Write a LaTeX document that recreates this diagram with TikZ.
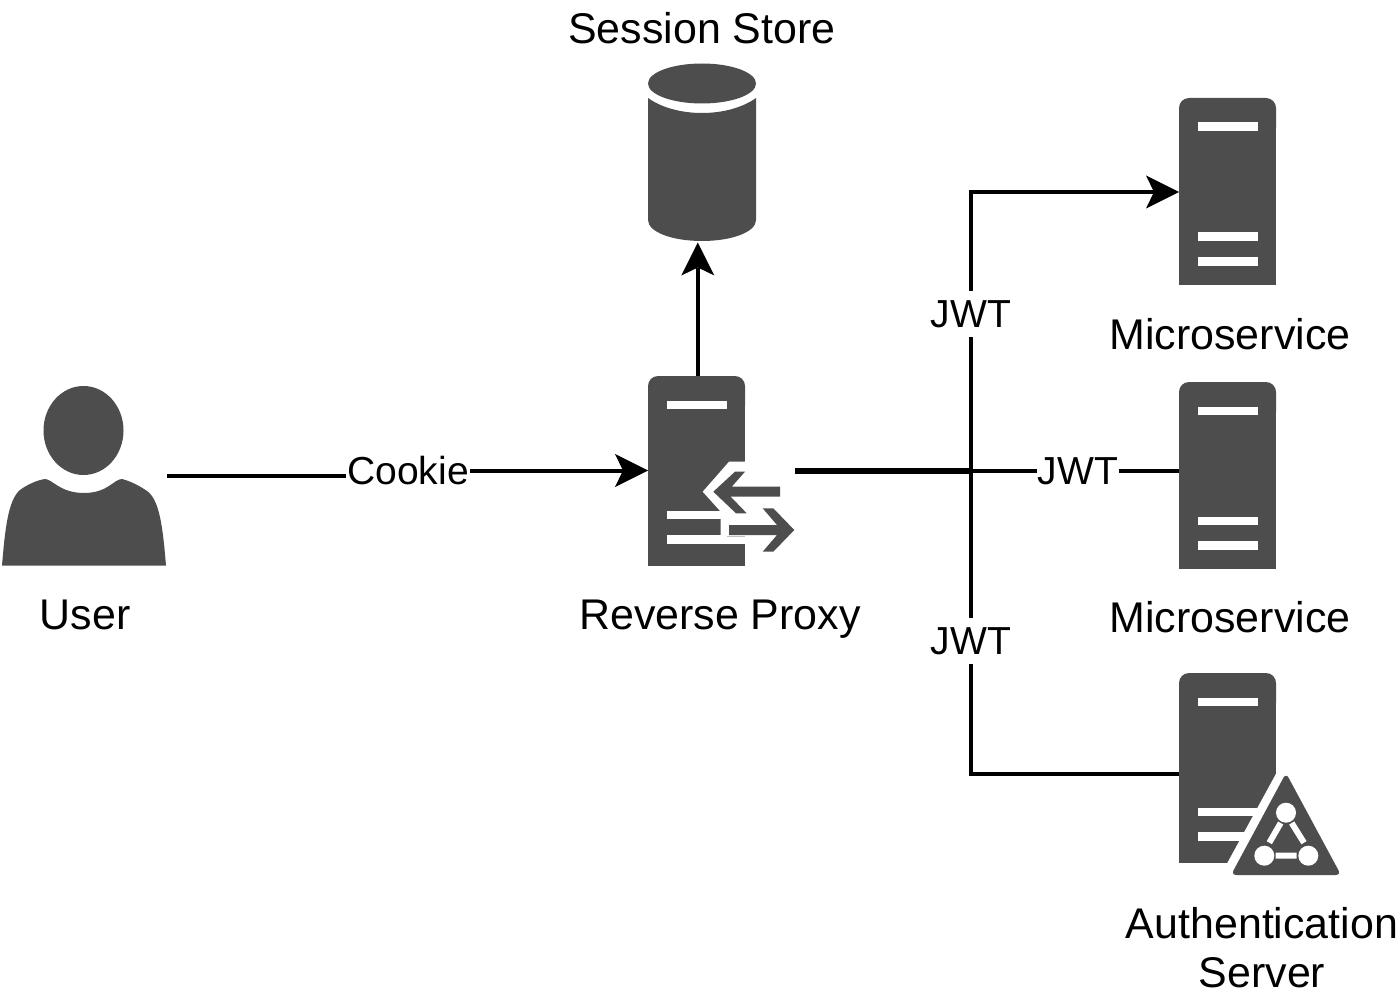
\documentclass[tikz,border=0pt]{standalone}
\usepackage{fontspec}
\setmainfont{Liberation Sans}
\usetikzlibrary{arrows.meta,backgrounds}

\definecolor{icondark}{HTML}{4D4D4D}

\tikzset{
	every picture/.style={line width=3pt},
	conn/.style={line width=3pt,black},
	trunk/.style={line width=4.3pt,black},
	arrowconn/.style={conn,-{Stealth[line width=0pt,length=24.75pt,width=24.75pt,inset=6pt]}},
	iconbox/.style={inner sep=0pt,outer sep=0pt},
	txtlbl/.style={inner sep=0.75pt,anchor=base,align=center,font=\fontsize{32.2}{36.75}\selectfont},
	wirelbl/.style={txtlbl,fill=white,inner ysep=0pt,inner xsep=1pt,text height=27pt,text depth=7.5pt,font=\fontsize{29.3}{36}\selectfont},
	serverbody/.pic={
		\fill [icondark,rounded corners=7.5pt] (0,0) rectangle (97,40);
		\fill [icondark] (0,20) rectangle (97,#1);
		\fill [white] (18.5,24.5) rectangle (78.5,33);
		\fill [white] (18.5,134.5) rectangle (78.5,143);
		\fill [white] (18.5,159) rectangle (78.5,167.5);
	}
}

\begin{document}
\begin{tikzpicture}[x=0.75pt,y=0.75pt,yscale=-1,xscale=1]
	\useasboundingbox (0,0) rectangle (1400,1002);

	%Shape: User
	\fill [icondark] (83.5,430.5) ellipse (40 and 44.5);
	\fill [icondark] (2,565.5) .. controls (5,530) and (8,500) .. (20,490) .. controls (28,484) and (38,480) .. (45,479) .. controls (52,479) and (60,493) .. (84,493) .. controls (108,493) and (114,479) .. (122,479) .. controls (130,481) and (140,486) .. (147,491) .. controls (160,500) and (163,530) .. (166,565.5) -- cycle;
	\node (user) [iconbox,minimum width=123pt,minimum height=135pt] at (84,476) {};

	%Shape: Session store
	\fill [icondark] (702,83.5) ellipse (54 and 20);
	\fill [icondark] (648,98) .. controls (662,108) and (682,113) .. (702,113) .. controls (722,113) and (742,108) .. (756,98) -- (756,220) .. controls (756,232) and (732,241) .. (702,241) .. controls (672,241) and (648,232) .. (648,220) -- cycle;
	\node (store) [iconbox,minimum width=81pt,minimum height=133.5pt] at (702,153.5) {};

	%Shape: Reverse proxy
	\pic [transform shape] at (648,376) {serverbody=189.5};
	\fill [white] (729,461.7) -- (702.7,491.7) -- (720.7,511.7) -- (720.7,536.7) -- (746,536.7) -- (746,461.7) -- cycle;
	\fill [white] (666.7,536.7) rectangle (746,544);
	\fill [icondark] (735,471.7) -- (745,471.7) -- (731.7,486.7) -- (780,486.7) -- (780,496.7) -- (730.7,496.7) -- (746.7,513.3) -- (736,513.3) -- (713.3,491.7) -- cycle;
	\fill [icondark] (729,525) -- (777,525) -- (762.7,508.3) -- (773.3,508.3) -- (794.3,530) -- (773.3,551.7) -- (762.7,551.7) -- (777,535) -- (729,535) -- cycle;
	\node (proxy) [iconbox,minimum width=72.75pt,minimum height=142.5pt] at (696.5,470.5) {};

	%Shape: Microservices
	\pic [transform shape] at (1179,98) {serverbody=187};
	\node (microa) [iconbox,minimum width=72.75pt,minimum height=140.25pt] at (1227.5,192) {};
	\pic [transform shape] at (1179,382) {serverbody=187};
	\node (microb) [iconbox,minimum width=72.75pt,minimum height=140.25pt] at (1227.5,475.5) {};

	%Shape: Authentication server
	\pic [transform shape] at (1179,673) {serverbody=190};
	\fill [white] (1277.5,771) -- (1227,863.5) -- (1277.5,863.5) -- cycle;
	\fill [icondark,rounded corners=4pt] (1286,773) -- (1231,875) -- (1341,875) -- cycle;
	\fill [white] (1286,812.7) circle (10) (1264.3,855.7) circle (10) (1308.3,855.7) circle (10);
	\draw [white,line width=4.5pt] (1280.7,823) -- (1269.3,842.7) (1291.7,823) -- (1304,842.7) (1275.7,855.7) -- (1296.7,855.7);
	\node (auth) [iconbox,minimum width=120pt,minimum height=151.5pt] at (1259,774) {};

	%Free ends of the connectors
	\coordinate (userout) at (167,476);
	\coordinate (proxyout) at (795,471);
	\coordinate (hub) at (971,471);

	% Text Node
	\node (storelbl) [txtlbl] at (702,44) {Session Store};
	% Text Node
	\node (userlbl) [txtlbl] at (85,629) {User};
	% Text Node
	\node (proxylbl) [txtlbl] at (720,629) {Reverse Proxy};
	% Text Node
	\node (microalbl) [txtlbl] at (1230,349) {Microservice};
	% Text Node
	\node (microblbl) [txtlbl] at (1230,632) {Microservice};
	% Text Node
	\node (authlbl) [txtlbl,anchor=center] at (1262,948) {Authentication\\Server};
	% Text Node
	\node (cookie) [wirelbl] at (408,484.5) {Cookie};
	% Text Node
	\node (jwta) [wirelbl] at (971,327) {JWT};
	% Text Node
	\node (jwtb) [wirelbl] at (1078,484.5) {JWT};
	% Text Node
	\node (jwtc) [wirelbl] at (971,654) {JWT};

	\begin{pgfonlayer}{background}
		%Straight Lines
		\draw [arrowconn] (userout) -- (userout -| cookie.center) -- (proxy.west -| cookie.center) -- (proxy.west);
		%Straight Lines
		\draw [arrowconn] ([xshift=1pt]proxy.north) -- ([xshift=1pt]proxy.north |- store.south);
		%Straight Lines
		\draw [trunk] (proxyout) -- (hub);
		%Straight Lines
		\draw [arrowconn] (hub) |- (microa.west);
		%Straight Lines
		\draw [conn] (hub) -- (hub -| microb.west);
		%Straight Lines
		\draw [conn] (hub) |- (auth.west);
	\end{pgfonlayer}

\end{tikzpicture}
\end{document}
